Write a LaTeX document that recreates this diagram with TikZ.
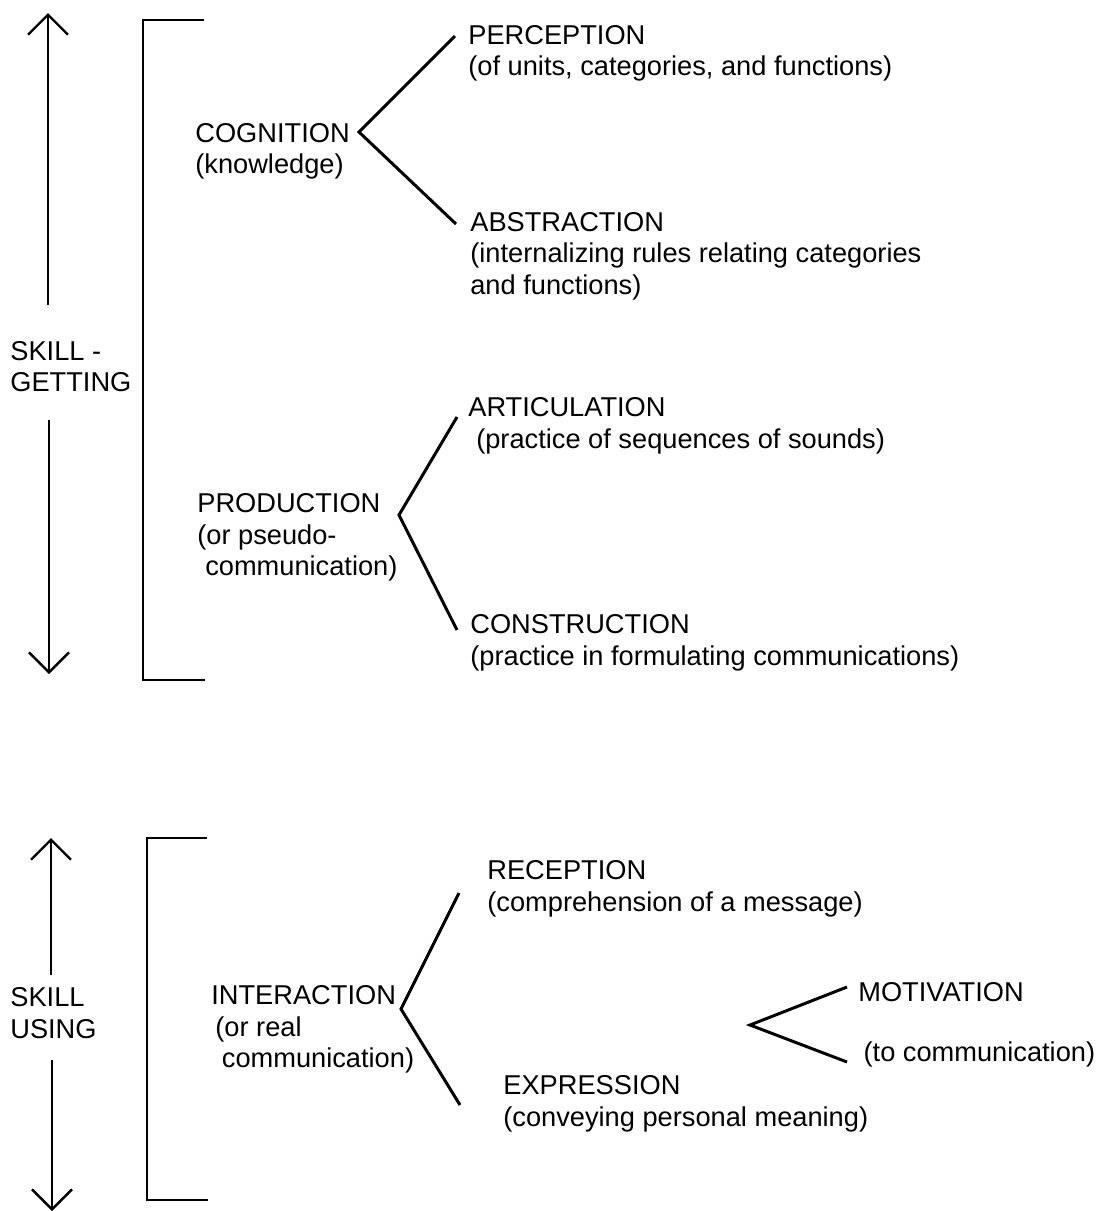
\documentclass[tikz,border=0pt]{standalone}
\usepackage{fontspec}
\setmainfont{Liberation Sans}
\usetikzlibrary{positioning,arrows.meta}

\begin{document}
\begin{tikzpicture}[
		x=0.02cm, y=-0.02cm,
		>={Straight Barb[length=0.4cm,width=0.8cm]},
		every node/.style={
			font=\fontsize{15.5}{18}\selectfont,
			align=left,
			anchor=north west,
			inner sep=0pt
		},
		stroke/.style={line width=1.4pt},
		fork/.style={line width=1.7pt}
		]
		
		\useasboundingbox (0,0) rectangle (1099,1211);
		
		%--------------------------------------------------
		% Skill-getting
		%--------------------------------------------------
		
		\node (getting) at (10,341) {SKILL -\\GETTING};
		
		\node (cognition) at (195,123) {COGNITION\\(knowledge)};
		\node (production) at (197,493) {PRODUCTION\\(or pseudo-\\\hspace*{4.5pt}communication)};
		
		\node (perception) at (468,25) {PERCEPTION\\(of units, categories, and functions)};
		\node (abstraction) at (470,212) {ABSTRACTION\\(internalizing rules relating categories\\and functions)};
		\node (articulation) at (468,397) {ARTICULATION\\\hspace*{4.5pt}(practice of sequences of sounds)};
		\node (construction) at (470,614) {CONSTRUCTION\\(practice in formulating communications)};
		
		\coordinate (gettop) at (48,13);
		\coordinate (getupfoot) at (48,305);
		\coordinate (getdownfoot) at (49,420);
		\coordinate (getbottom) at (49,674);
		
		\coordinate (cogfork) at (359,132);
		\coordinate (percend) at (455,36);
		\coordinate (abstend) at (456,224);
		
		\coordinate (prodfork) at (399,515);
		\coordinate (articend) at (457,417);
		\coordinate (constend) at (457,630);
		
		\draw[stroke,->] (getupfoot) -- (gettop);
		\draw[stroke,->] (getdownfoot) -- (getbottom);
		
		\draw[stroke] (204,20) -- (143,20) -- (143,680) -- (205,680);
		
		%--------------------------------------------------
		% Skill-using
		%--------------------------------------------------
		
		\node (using) at (10,987) {SKILL\\USING};
		
		\node (interaction) at (211,985) {INTERACTION\\\hspace*{2.3pt}(or real\\\hspace*{6pt}communication)};
		
		\node (reception) at (487,860) {RECEPTION\\(comprehension of a message)};
		\node (expression) at (503,1075) {EXPRESSION\\(conveying personal meaning)};
		\node (motivation) at (858,982) {MOTIVATION\\[16pt]\hspace*{3pt}(to communication)};
		
		\coordinate (usetop) at (51,838);
		\coordinate (useupfoot) at (51,975);
		\coordinate (usedownfoot) at (52,1060);
		\coordinate (usebottom) at (52,1211);
		
		\coordinate (interfork) at (401,1009);
		\coordinate (recepend) at (459,893);
		\coordinate (exprend) at (460,1105);
		
		\coordinate (motfork) at (750,1025);
		\coordinate (motup) at (847,987);
		\coordinate (motdown) at (847,1062);
		
		\draw[stroke,->] (useupfoot) -- (usetop);
		\draw[stroke,->] (usedownfoot) -- (usebottom);
		
		\draw[stroke] (207,838) -- (147,838) -- (147,1200) -- (208,1200);
		
		%--------------------------------------------------
		% Branches
		%--------------------------------------------------
		
		\foreach \a/\b/\c in {cogfork/percend/abstend,prodfork/articend/constend,interfork/recepend/exprend,motfork/motup/motdown}
		{
			\draw[fork] (\b) -- (\a) -- (\c);
		}
		
	\end{tikzpicture}
\end{document}
